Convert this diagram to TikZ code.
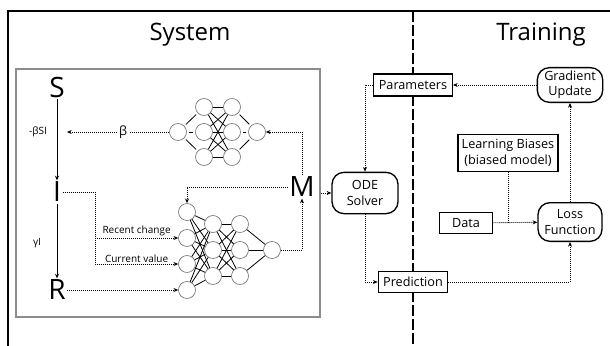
\documentclass[tikz,border=0pt]{standalone}
\usepackage{fontspec}
\setmainfont{Open Sans}
\usetikzlibrary{arrows.meta}

\tikzset{
    neuron/.style={circle, draw=black!55, fill=white, line width=0.5pt, minimum size=12.75pt, inner sep=0pt},
    wire/.style={line width=0.6pt},
    link/.style={dash pattern=on 0.8pt off 0.7pt, line width=0.65pt},
    flow/.style={link, -{Stealth[length=3.5pt,width=3pt]}},
    box/.style={draw, fill=white, line width=1pt, inner sep=1pt, align=center, font=\fontsize{9.5}{11.5}\selectfont},
    rbox/.style={box, rounded corners=9pt},
    state/.style={inner sep=1pt, font=\fontsize{21}{21}\selectfont},
    small/.style={inner sep=1pt, font=\fontsize{7.5}{8}\selectfont},
    title/.style={font=\fontsize{18}{20}\selectfont}
}

\begin{document}
\begin{tikzpicture}[x=0.75pt, y=-0.75pt]
    \useasboundingbox (0,0) rectangle (610,346);
    \draw[line width=1.2pt] (8,346) -- (8,11) -- (610,11); % frame
    \draw[line width=1.5pt, dash pattern=on 8pt off 2.5pt] (413,11) -- (413,346); % divider

    \node[title] (systitle) at (190,35) {System};
    \node[title] (traintitle) at (541,35) {Training};

    % system panel
    \node[draw=black!45, line width=0.8pt, minimum width=228pt, minimum height=186pt] (sys) at (168,193) {};

    \node[state] (S) at (57,87) {S};
    \node[state] (I) at (57,192) {I};
    \node[state] (R) at (57,290) {R};
    \node[state] (M) at (302,187) {M};
    \node[small] (rate) at (38,132) {-βSI};
    \node[small] (rec) at (37,243) {γI};
    \draw[wire, -{Stealth[length=3.5pt,width=3pt]}] (S) -- (I);
    \draw[wire, -{Stealth[length=3.5pt,width=3pt]}] (I) -- (R);

    % upper network
    \foreach \y [count=\i] in {107,132,157} {
        \node[neuron] (t1-\i) at (204,\y) {};
        \node[neuron] (t2-\i) at (232,\y) {};
    }
    \node[neuron] (t0) at (178,132) {};
    \node[neuron] (t3) at (257,132) {};
    \foreach \i in {1,2,3} {
        \draw[wire, shorten <=1.5pt, shorten >=1.5pt] (t0) -- (t1-\i);
        \draw[wire, shorten <=1.5pt, shorten >=1.5pt] (t2-\i) -- (t3);
        \foreach \j in {1,2,3}
            \draw[wire] (t1-\i) -- (t2-\j);
    }

    % lower network
    \foreach \y [count=\i] in {212,238,264,290}
        \node[neuron] (b0-\i) at (187,\y) {};
    \foreach \y [count=\i] in {224,250,276} {
        \node[neuron] (b1-\i) at (213,\y) {};
        \node[neuron] (b2-\i) at (240,\y) {};
    }
    \node[neuron] (b3) at (272,250) {};
    \foreach \i in {1,2,3} {
        \foreach \k in {1,2,3,4}
            \draw[wire] (b0-\k) -- (b1-\i);
        \foreach \j in {1,2,3}
            \draw[wire] (b1-\i) -- (b2-\j);
        \draw[wire] (b2-\i) -- (b3);
    }

    % system connectors
    \coordinate (bt) at (67,132);
    \coordinate (tap) at (95,192);
    \draw[flow] (t0) -- (bt) node[pos=0.45, fill=white, small, font=\fontsize{9.5}{10}\selectfont] (beta) {β};
    \draw[flow] (M.north) |- (t3);
    \draw[flow] (M.west) -| (b0-1.north);
    \draw[flow] (b3.east) -| (M.south);
    \draw[flow] (I.east) -- (tap) |- (b0-3);
    \draw[flow] (tap |- b0-2) -- (b0-2) node[midway, above, small] (recent) {Recent change};
    \path (tap |- b0-3) -- (b0-3) node[midway, above, small] (current) {Current value};
    \draw[flow] (R) -- (b0-4);

    % training side
    \node[box, minimum width=59pt, minimum height=16.5pt] (par) at (413,85) {Parameters};
    \node[rbox, minimum width=49.5pt, minimum height=31pt] (ode) at (365,193) {ODE\\Solver};
    \node[rbox, minimum width=49pt, minimum height=26pt] (grad) at (570,85) {Gradient\\Update};
    \node[box, minimum width=75pt, minimum height=28pt] (bias) at (508,153) {Learning Biases\\(biased model)};
    \node[box, minimum width=40pt, minimum height=16pt] (data) at (466,223) {Data};
    \node[rbox, minimum width=48pt, minimum height=29pt] (loss) at (570,222) {Loss\\Function};
    \node[box, minimum width=52pt, minimum height=16pt] (pred) at (413,282) {Prediction};

    \draw[flow] (sys.east) -- (ode.west);
    \draw[flow] (grad) -- (par);
    \draw[flow] (par.west) -| (ode.north);
    \draw[flow] (ode.south) |- (pred.west);
    \draw[flow] (pred.east) -| (loss.south);
    \draw[flow] (data) -- (loss);
    \draw[link] (bias.south) -- (bias.south |- data.east);
    \draw[flow] (loss) -- (grad);
\end{tikzpicture}
\end{document}
